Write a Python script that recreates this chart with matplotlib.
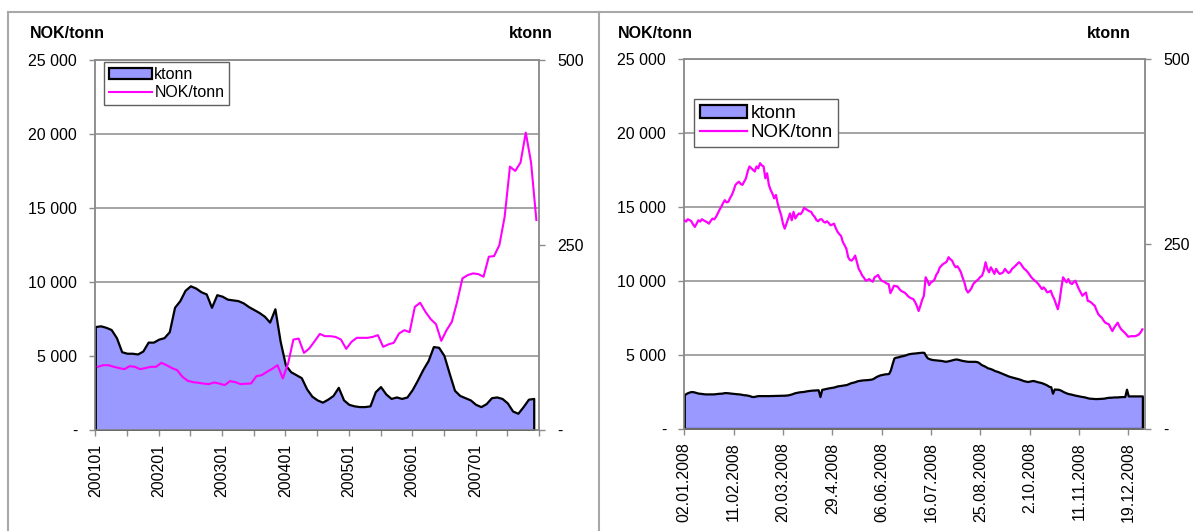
import matplotlib
matplotlib.use("Agg")
import matplotlib.pyplot as plt
from matplotlib.lines import Line2D
import numpy as np
import pandas as pd

plt.rcParams['font.family'] = ['Liberation Sans', 'DejaVu Sans']

W, H = 1193, 531

# ---------------- Monthly data 2001-2007 ----------------
months = [f"{y}{m:02d}" for y in range(2001, 2008) for m in range(1, 13)]

# volume, ktonn (one value per month, 200101-200712)
monthly_ktonn = [
    140, 141, 139, 136, 125, 106, 104, 104, 103, 107, 119, 119,
    123, 125, 133, 166, 175, 189, 195, 192, 187, 184, 166, 183,
    181, 177, 176, 175, 172, 167, 163, 159, 154, 146, 164, 120,
    88, 79, 75, 71, 56, 46, 41, 38, 42, 47, 58, 41,
    35, 33, 32, 32, 33, 52, 59, 49, 43, 45, 43, 45,
    55, 68, 82, 94, 113, 112, 101, 77, 54, 47, 44, 41,
    35, 32, 36, 44, 45, 43, 37, 26, 23, 32, 42, 43,
]

# price, NOK/tonn (one value per month, plotted mid-month)
monthly_price = [
    4283, 4395, 4395, 4283, 4200, 4126, 4327, 4283, 4126, 4200, 4283, 4283,
    4552, 4395, 4200, 4058, 3610, 3341, 3250, 3206, 3150, 3117, 3229, 3150,
    3049, 3318, 3250, 3117, 3140, 3161, 3655, 3722, 3946, 4150, 4395, 3498,
    4507, 6121, 6188, 5224, 5516, 6000, 6500, 6351, 6351, 6300, 6126, 5495,
    5968, 6239, 6239, 6239, 6300, 6419, 5631, 5800, 5901, 6532, 6757, 6622,
    8333, 8604, 7995, 7500, 7162, 6036, 6757, 7320, 8671, 10248, 10473, 10586,
    10541, 10360, 11712, 11757, 12500, 14414, 17793, 17500, 18063, 20090, 18063, 14189,
]

# ---------------- Daily data 2008 (weekdays) ----------------
days_2008 = pd.bdate_range("2008-01-02", "2008-12-31")
day_ticks = ["2008-01-02", "2008-02-11", "2008-03-20", "2008-04-29", "2008-06-06",
             "2008-07-16", "2008-08-25", "2008-10-02", "2008-11-11", "2008-12-19"]
day_tick_labels = ["02.01.2008", "11.02.2008", "20.03.2008", "29.4.2008", "06.06.2008",
                   "16.07.2008", "25.08.2008", "2.10.2008", "11.11.2008", "19.12.2008"]

daily_price = [
    # Jan
    14090, 14000, 14160, 14100, 14020, 13800, 13640, 13860, 14090, 14000, 14160,
    14080, 14020, 13950, 13860, 14050, 14200, 14150, 14320, 14550, 14800, 15000,
    # Feb
    15250, 15450, 15300, 15340, 15600, 15800, 16100, 16480, 16600, 16700, 16550,
    16480, 16700, 16930, 17400, 17730, 17610, 17500, 17390, 17730, 17600,
    # Mar
    17950, 17800, 17730, 16930, 17270, 16480, 16140, 15900, 15570, 15800, 15230,
    14800, 14430, 13860, 13520, 13860, 14200, 14550, 14090, 14660, 14210,
    # Apr
    14400, 14550, 14500, 14660, 14930, 14850, 14770, 14700, 14660, 14450, 14320,
    14100, 14020, 14150, 14160, 14000, 13930, 14020, 13900, 13750, 13800, 13860,
    # May
    13550, 13300, 13150, 13020, 12610, 12400, 12160, 11590, 11400, 11360, 11500,
    11700, 11250, 10800, 10600, 10340, 10200, 10000, 10050, 10110, 10000, 9930,
    # Jun
    10230, 10300, 10390, 10150, 10000, 9950, 9890, 9800, 9770, 9160, 9400,
    9660, 9630, 9610, 9450, 9320, 9250, 9200, 9090, 8950, 8860,
    # Jul
    8800, 8750, 8550, 8300, 7950, 8300, 8700, 8980, 10230, 10000, 9700, 9890,
    9950, 10070, 10400, 10570, 10900, 11020, 11140, 11200, 11300, 11590, 11450,
    # Aug
    11360, 11100, 10910, 10980, 10800, 10570, 10200, 9890, 9400, 9200, 9320,
    9500, 9770, 9900, 10000, 10110, 10250, 10340, 10680, 11250, 10800,
    # Sep
    10570, 10910, 10700, 10460, 10800, 10600, 10460, 10500, 10570, 10800, 10650,
    10520, 10600, 10800, 10900, 11020, 11150, 11250, 11140, 10950, 10800, 10700,
    # Oct
    10570, 10400, 10230, 10100, 10000, 9900, 9770, 9600, 9430, 9550, 9400, 9210,
    9250, 9320, 9000, 8750, 8400, 8070, 8640, 9500, 10230, 10050, 9890,
    # Nov
    10110, 9850, 9770, 9900, 10000, 9700, 9430, 9200, 8980, 9100,
    9200, 8640, 8600, 8520, 8400, 8300, 8000, 7730, 7600, 7500,
    # Dec
    7300, 7160, 7100, 7050, 6800, 6590, 6820, 7000, 7160, 6900, 6710, 6600,
    6480, 6350, 6210, 6230, 6250, 6240, 6250, 6300, 6360, 6500, 6710,
]

daily_ktonn = [
    # Jan
    45.5, 47.5, 48.6, 49.5, 50.0, 49.8, 49.2, 48.5, 47.8, 47.7, 47.3,
    47.0, 46.8, 46.8, 46.8, 46.8, 46.8, 46.9, 47.2, 47.5, 47.7, 47.8,
    # Feb
    48.2, 48.6, 48.5, 48.3, 48.0, 47.7, 47.5, 47.2, 47.0, 46.8, 46.5,
    46.0, 45.6, 45.5, 45.0, 44.5, 43.5, 43.2, 43.6, 44.2, 44.5,
    # Mar
    44.5, 44.5, 44.5, 44.5, 44.5, 44.5, 44.6, 44.6, 44.7, 44.8, 44.8,
    44.9, 45.0, 45.0, 45.1, 45.3, 45.6, 46.2, 46.9, 47.8, 48.6,
    # Apr
    49.0, 49.5, 49.8, 50.0, 50.3, 50.8, 51.2, 51.5, 51.8, 52.0, 52.1,
    52.3, 52.3, 43.2, 53.0, 53.4, 54.0, 54.5, 55.0, 55.4, 55.8, 56.2,
    # May
    57.0, 57.7, 58.0, 58.3, 58.8, 59.1, 59.5, 60.5, 61.5, 62.3, 62.8,
    63.5, 64.5, 65.0, 65.3, 65.7, 65.9, 66.0, 66.2, 66.5, 66.8, 67.5,
    # Jun
    69.0, 70.5, 71.5, 72.5, 73.0, 73.5, 74.0, 74.1, 74.5, 79.5, 88.0,
    95.5, 96.5, 96.8, 97.5, 98.2, 98.6, 99.3, 100.0, 101.0, 101.4,
    # Jul
    101.8, 102.0, 102.2, 102.5, 102.8, 103.0, 103.2, 103.0, 98.6, 95.5, 94.5, 93.8,
    93.2, 93.0, 92.8, 92.5, 92.3, 92.0, 91.5, 91.0, 91.2, 91.8, 92.3,
    # Aug
    93.0, 93.6, 94.1, 93.8, 93.2, 92.5, 92.0, 91.6, 91.2, 90.9, 90.9,
    90.9, 90.9, 90.9, 90.5, 89.5, 87.5, 86.0, 85.0, 83.8, 82.2,
    # Sep
    81.6, 80.8, 79.8, 78.5, 77.8, 77.0, 76.0, 75.0, 74.0, 73.0, 72.0,
    71.0, 70.3, 69.6, 69.0, 68.3, 67.7, 67.0, 66.2, 65.2, 64.5, 64.0,
    # Oct
    63.6, 64.2, 64.6, 65.0, 64.3, 63.6, 63.0, 62.5, 61.8, 60.8, 59.8, 58.5,
    57.0, 56.5, 47.7, 53.5, 53.2, 53.2, 52.5, 51.5, 50.0, 49.0, 48.0,
    # Nov
    47.2, 46.8, 46.2, 45.6, 45.0, 44.6, 44.1, 43.6, 43.2, 42.8,
    42.2, 41.5, 41.0, 40.9, 40.7, 40.5, 40.5, 40.6, 40.7, 40.9,
    # Dec
    41.0, 41.5, 42.0, 42.3, 42.3, 42.5, 42.7, 42.7, 42.8, 43.0, 43.1, 43.2,
    43.2, 53.2, 44.1, 44.1, 44.1, 44.1, 44.1, 44.1, 44.1, 44.1, 44.1,
]

price_ticks = [0, 5000, 10000, 15000, 20000, 25000]
price_tick_labels = ["-", "5 000", "10 000", "15 000", "20 000", "25 000"]
ktonn_ticks = [0, 250, 500]
ktonn_tick_labels = ["-", "250", "500"]

AREA_FACE = "#9999ff"
LINE_COLOR = "#ff00ff"
GRID = "#8c8c8c"
FS = 11.5

fig = plt.figure(figsize=(W / 100, H / 100), dpi=100)


def style_axes(ax, ax2):
    ax.set_ylim(0, 25000)
    ax.set_yticks(price_ticks)
    ax.set_yticklabels(price_tick_labels)
    ax2.set_ylim(0, 500)
    ax2.set_yticks(ktonn_ticks)
    ax2.set_yticklabels(ktonn_tick_labels)
    ax.yaxis.grid(True, color=GRID, lw=1.1)
    ax.set_axisbelow(True)
    for a in (ax, ax2):
        for s in a.spines.values():
            s.set_color(GRID)
            s.set_linewidth(1.1)
        a.tick_params(axis="y", direction="out", length=4, width=1,
                      color=GRID, labelsize=FS, pad=9)
    ax.tick_params(axis="x", which="both", direction="out", length=4,
                   width=1, color=GRID, labelsize=FS, pad=6, labelrotation=90)


# ---------------- Left panel: monthly ----------------
axL = fig.add_axes([95.3 / W, 1 - 430.3 / H, (539 - 95.3) / W, 370.5 / H])
axL2 = axL.twinx()
xm = np.arange(len(monthly_ktonn))
axL2.fill_between(xm, monthly_ktonn, 0, facecolor=AREA_FACE, edgecolor="black",
                  lw=1.6, label="ktonn", zorder=2)
xp = np.arange(len(monthly_price)) + 0.5
axL2.plot(xp, monthly_price, color=LINE_COLOR, lw=1.5, label="NOK/tonn",
          transform=axL.transData, zorder=3)
style_axes(axL, axL2)
axL.set_xlim(0, 84)
axL.set_xticks(np.arange(0, 84, 12))
axL.set_xticklabels(months[0:84:12])
axL.set_xticks(list(np.arange(6, 84, 12)) + [84], minor=True)
legL = axL2.legend(loc="upper left", bbox_to_anchor=(104 / W, 1 - 62 / H),
                   bbox_transform=fig.transFigure, borderaxespad=0,
                   fontsize=11.5, handlelength=2.7, handletextpad=0.15,
                   labelspacing=0.22, borderpad=0.3, fancybox=False,
                   framealpha=1, edgecolor="#606060")
legL.get_frame().set_linewidth(1.0)

# ---------------- Right panel: daily 2008 ----------------
axR = fig.add_axes([684.3 / W, 1 - 428.5 / H, (1145 - 684.3) / W, 369.5 / H])
axR2 = axR.twinx()
xd = np.arange(len(days_2008))
axR2.fill_between(xd, daily_ktonn, 0, facecolor=AREA_FACE, edgecolor="black",
                  lw=1.6, label="ktonn", zorder=2)
axR2.plot(xd, daily_price, color=LINE_COLOR, lw=1.6, label="NOK/tonn",
          transform=axR.transData, zorder=3)
style_axes(axR, axR2)
axR.set_xlim(0, 261.5)
tick_pos = [days_2008.get_loc(pd.Timestamp(d)) for d in day_ticks]
axR.set_xticks(tick_pos)
axR.set_xticklabels(day_tick_labels)
legR = axR2.legend(loc="upper left", bbox_to_anchor=(694 / W, 1 - 99 / H),
                   bbox_transform=fig.transFigure, borderaxespad=0,
                   fontsize=13.5, handlelength=2.5, handletextpad=0.2,
                   labelspacing=0.12, borderpad=0.3, fancybox=False,
                   framealpha=1, edgecolor="#606060")
legR.get_frame().set_linewidth(1.0)

# ---------------- Axis titles ----------------
for x, ha, txt in [(30, "left", "NOK/tonn"), (553, "right", "ktonn"),
                   (618, "left", "NOK/tonn"), (1131, "right", "ktonn")]:
    fig.text(x / W, 1 - 34 / H, txt, ha=ha, va="center",
             fontsize=FS, fontweight="bold")

# ---------------- Panel frames ----------------
frame_kw = dict(transform=fig.transFigure, color="#a8a8a8", lw=1.5)
fig.add_artist(Line2D([8 / W, 1], [1 - 12 / H, 1 - 12 / H], **frame_kw))
fig.add_artist(Line2D([8 / W, 8 / W], [0, 1 - 12 / H], **frame_kw))
fig.add_artist(Line2D([599 / W, 599 / W], [0, 1 - 12 / H], **frame_kw))

fig.savefig("out.png", dpi=100)
